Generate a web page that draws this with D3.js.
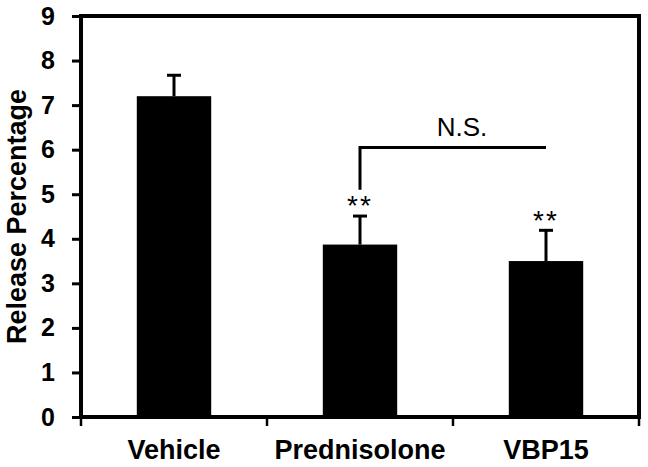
<!DOCTYPE html>
<html>
<head>
<meta charset="utf-8">
<script src="https://cdn.jsdelivr.net/npm/d3@7"></script>
<style>
  html, body { margin: 0; padding: 0; background: #fff; }
  svg { display: block; font-family: "Liberation Sans", Arial, sans-serif; }
</style>
</head>
<body>
<svg id="chart" width="648" height="467"></svg>
<script>
// ---- data ----
const categories = ["Vehicle", "Prednisolone", "VBP15"];
const means = [7.2, 3.87, 3.5];
const errors = [0.47, 0.64, 0.69];
const significance = ["", "**", "**"];
const yTicks = [0, 1, 2, 3, 4, 5, 6, 7, 8, 9];
const yLabel = "Release Percentage";
const bracketFrom = "Prednisolone";
const bracketTo = "VBP15";
const bracketLevel = [6.05];
const bracketFoot = [5.1];
const bracketLabel = "N.S.";

// ---- layout ----
const mLeft = 81, mRight = 639, mTop = 16, mBottom = 417;
const svg = d3.select("#chart");

const x = d3.scaleBand().domain(categories).range([mLeft, mRight])
  .paddingInner(0.6).paddingOuter(0.3);
const y = d3.scaleLinear().domain([0, 9]).range([mBottom, mTop]);

// bars
svg.append("g").selectAll("rect").data(categories).join("rect")
  .attr("x", d => x(d))
  .attr("y", (d, i) => y(means[i]))
  .attr("width", x.bandwidth())
  .attr("height", (d, i) => y(0) - y(means[i]))
  .attr("fill", "#000");

// error bars (upward only)
const eb = svg.append("g").attr("stroke", "#000").attr("stroke-width", 3);
categories.forEach((c, i) => {
  const cx = x(c) + x.bandwidth() / 2;
  eb.append("line").attr("x1", cx).attr("x2", cx)
    .attr("y1", y(means[i])).attr("y2", y(means[i] + errors[i]));
  eb.append("line").attr("x1", cx - 7).attr("x2", cx + 7)
    .attr("y1", y(means[i] + errors[i])).attr("y2", y(means[i] + errors[i]));
});

// significance stars
svg.append("g").selectAll("text").data(categories).join("text")
  .attr("x", d => x(d) + x.bandwidth() / 2)
  .attr("y", (d, i) => y(means[i] + errors[i]) - 18)
  .attr("dy", "0.62em")
  .attr("text-anchor", "middle")
  .attr("font-size", 28)
  .attr("letter-spacing", 2)
  .text((d, i) => significance[i]);

// y axis
const yAxis = svg.append("g").attr("transform", `translate(${mLeft},0)`)
  .call(d3.axisLeft(y).tickValues(yTicks).tickSize(9).tickPadding(17).tickFormat(d3.format("d")));
yAxis.select(".domain").remove();
yAxis.selectAll(".tick line").attr("stroke", "#000").attr("stroke-width", 3);
yAxis.selectAll(".tick text").attr("font-size", 25).attr("font-weight", "bold").attr("fill", "#000")
  .attr("font-family", "Liberation Sans, Arial, sans-serif");

// x axis
const xTickPos = [mLeft, ...categories.map(c => x(c) + x.bandwidth() / 2 + x.step() / 2)];
const xg = svg.append("g");
xg.selectAll("line").data(xTickPos).join("line")
  .attr("x1", d => d).attr("x2", d => d)
  .attr("y1", mBottom).attr("y2", mBottom + 9)
  .attr("stroke", "#000").attr("stroke-width", 2.5);
xg.selectAll("text").data(categories).join("text")
  .attr("x", d => x(d) + x.bandwidth() / 2)
  .attr("y", 459)
  .attr("text-anchor", "middle")
  .attr("font-size", 27).attr("font-weight", "bold")
  .text(d => d);

// frame
svg.append("path")
  .attr("d", `M${mLeft},${mTop}H${mRight}V${mBottom}H${mLeft}Z`)
  .attr("fill", "none").attr("stroke", "#000").attr("stroke-width", 4);

// y label
svg.append("text")
  .attr("transform", `translate(26,${(mTop + mBottom) / 2}) rotate(-90)`)
  .attr("text-anchor", "middle")
  .attr("font-size", 27).attr("font-weight", "bold")
  .text(yLabel);

// bracket
const bx1 = x(bracketFrom) + x.bandwidth() / 2;
const bx2 = x(bracketTo) + x.bandwidth() / 2;
svg.append("path")
  .attr("d", `M${bx1},${y(bracketFoot[0])}V${y(bracketLevel[0])}H${bx2}`)
  .attr("fill", "none").attr("stroke", "#000").attr("stroke-width", 3);
svg.append("text")
  .attr("x", (bx1 + bx2) / 2 + 9)
  .attr("y", y(bracketLevel[0]) - 11)
  .attr("text-anchor", "middle")
  .attr("font-size", 26)
  .text(bracketLabel);
</script>
</body>
</html>
